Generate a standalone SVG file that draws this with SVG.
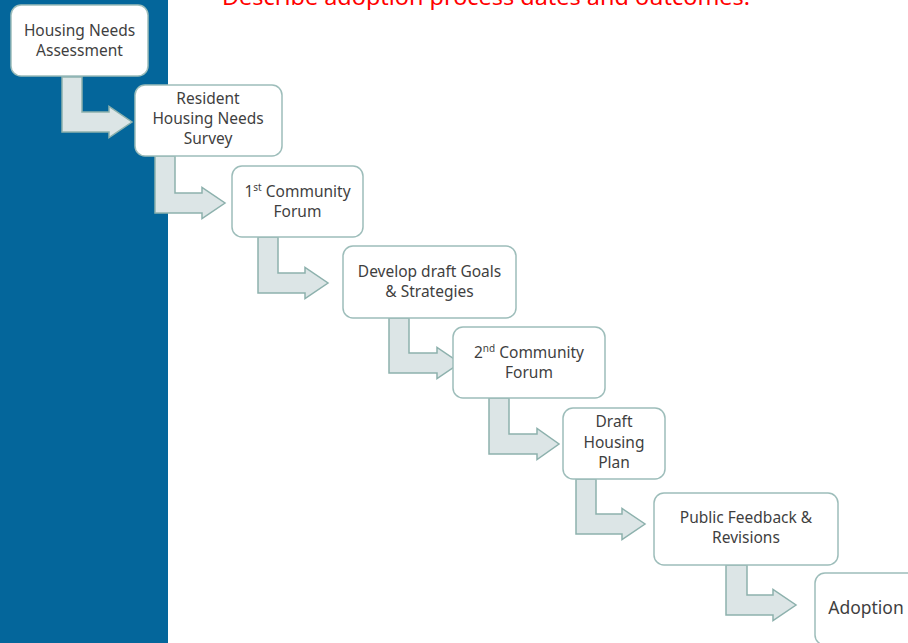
<svg xmlns="http://www.w3.org/2000/svg" width="908" height="643" viewBox="0 0 908 643">
<style>
.node rect{fill:#ffffff;stroke:#9dbdba;stroke-width:1.5}
.node text{font-family:"Noto Sans","Open Sans",sans-serif;font-size:15.5px;fill:#3f3f3f;text-anchor:middle}
.node tspan.sup{font-size:10px}
.node text.big{font-size:17.5px}
.arrow{fill:#dce5e6;stroke:#8db1ad;stroke-width:1.5;stroke-linejoin:miter}
.title{font-family:"Noto Sans","Open Sans",sans-serif;font-size:21px;fill:#ff0000}
</style>
<rect x="0" y="0" width="168" height="643" fill="#04669b"/>
<text class="title" x="222" y="5" textLength="528" lengthAdjust="spacingAndGlyphs">Describe adoption process dates and outcomes.</text>
<g id="connectors">
<path class="arrow" d="M62,77 H82 V112 H109 V106.5 L132,122 L109,137.5 V132 H62 Z"/>
<path class="arrow" d="M155,156 H175 V193 H202 V187.5 L225,203 L202,218.5 V213 H155 Z"/>
<path class="arrow" d="M258,237 H278 V273 H305 V267.5 L328,283 L305,298.5 V293 H258 Z"/>
<path class="arrow" d="M389,318 H409 V353 H437 V347.5 L460,363 L437,378.5 V373 H389 Z"/>
<path class="arrow" d="M489,398 H509 V434 H537 V428.5 L559,444 L537,459.5 V454 H489 Z"/>
<path class="arrow" d="M576,479 H596 V514 H622 V508.5 L645,524 L622,539.5 V534 H576 Z"/>
<path class="arrow" d="M726,565 H747 V595 H773 V589.5 L796,605 L773,620.5 V615 H726 Z"/>
</g>
<g id="n1" class="node"><rect x="11" y="5" width="137" height="71" rx="10"/><text x="79.5" y="36">Housing Needs</text><text x="79.5" y="56">Assessment</text></g>
<g id="n2" class="node"><rect x="135" y="85" width="147" height="71" rx="10"/><text x="208" y="104">Resident</text><text x="208" y="124">Housing Needs</text><text x="208" y="144">Survey</text></g>
<g id="n3" class="node"><rect x="232" y="166" width="131" height="71" rx="10"/><text x="297.5" y="197">1<tspan class="sup" dy="-6">st</tspan><tspan dy="6"> Community</tspan></text><text x="297.5" y="217">Forum</text></g>
<g id="n4" class="node"><rect x="343" y="246" width="173" height="72" rx="10"/><text x="429.5" y="277">Develop draft Goals</text><text x="429.5" y="297">&amp; Strategies</text></g>
<g id="n5" class="node"><rect x="453" y="327" width="152" height="71" rx="10"/><text x="529" y="358">2<tspan class="sup" dy="-6">nd</tspan><tspan dy="6"> Community</tspan></text><text x="529" y="378">Forum</text></g>
<g id="n6" class="node"><rect x="563" y="408" width="102" height="71" rx="10"/><text x="614" y="427">Draft</text><text x="614" y="448">Housing</text><text x="614" y="468">Plan</text></g>
<g id="n7" class="node"><rect x="654" y="493" width="184" height="72" rx="10"/><text x="746" y="523">Public Feedback &amp;</text><text x="746" y="543">Revisions</text></g>
<g id="n8" class="node"><rect x="815" y="573" width="105" height="72" rx="10"/><text class="big" x="866" y="614">Adoption</text></g>
</svg>
